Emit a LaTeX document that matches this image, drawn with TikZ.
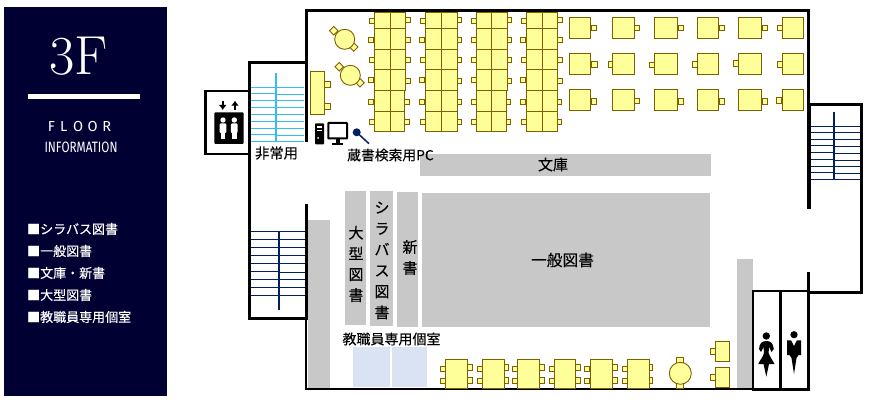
\documentclass[tikz,border=0pt]{standalone}
\usepackage{fontspec}
\usetikzlibrary{arrows.meta}

\newfontfamily\cjk[FakeBold=0.25]{Noto Sans CJK JP}
\newfontfamily\floorfont{Fira Sans}
\newfontfamily\infofont[FakeStretch=0.78]{Fira Sans}

\definecolor{panelblue}{RGB}{0,0,51}
\definecolor{deskfill}{RGB}{255,255,153}
\definecolor{deskline}{RGB}{127,96,0}
\definecolor{shelfgray}{RGB}{200,200,200}
\definecolor{roomblue}{RGB}{218,227,243}
\definecolor{stairnavy}{RGB}{0,32,96}
\definecolor{stairsky}{RGB}{51,190,240}

\begin{document}
\begin{tikzpicture}[%
        x = 1pt,
        y = -1pt,
        > = Latex,
        wall/.style = {line width = 3pt, line cap = rect, line join = miter},
        thinwall/.style = {line width = 2.2pt, line cap = rect, line join = miter},
        desk/.style = {draw = deskline, fill = deskfill, line width = 0.9pt},
        shelf/.style = {fill = shelfgray},
        stairline/.style = {line width = 0.8pt},
        label/.style = {inner sep = 0pt, font = \cjk\fontsize{14}{16}\selectfont},
        upright/.style = {inner sep = 0pt, align = center},
        item/.style = {anchor = west, inner sep = 0pt, text = white, font = \cjk\fontsize{13}{15}\selectfont}
    ]

        % Fix the page to the size of the reference.
        \useasboundingbox (0, 0) rectangle (873, 401);

        % Side panel.
        \fill[panelblue] (4, 7) rectangle (167, 396);
        \fill[white] (28, 94) rectangle (140, 99);
        \node (title) at (78.5, 56) [inner sep = 0pt, text = white, font = \fontsize{55}{55}\selectfont] {3F};
        \node (floor) at (79.5, 126.5) [inner sep = 0pt, text = white, font = \floorfont\fontsize{14.5}{16}\selectfont] {F\hspace{5.2pt}L\hspace{5.6pt}O\hspace{4.6pt}O\hspace{4.6pt}R};
        \node (info) at (81, 147) [inner sep = 0pt, text = white, font = \infofont\fontsize{15}{17}\selectfont] {INFORMATION};

        % Legend of the panel.
        \node (item1) at (27, 229) [item] {■シラバス図書};
        \node (item2) at (27, 251) [item] {■一般図書};
        \node (item3) at (27, 273) [item] {■文庫・新書};
        \node (item4) at (27, 295) [item] {■大型図書};
        \node (item5) at (27, 317) [item] {■教職員専用個室};

        % Shelves.
        \fill[shelf] (420, 154) rectangle (711, 176);
        \fill[shelf] (422, 193) rectangle (710, 327);
        \fill[shelf] (345, 191) rectangle (366, 325);
        \fill[shelf] (370, 191) rectangle (393, 326);
        \fill[shelf] (397, 192) rectangle (418, 327);
        \fill[shelf] (308, 220) rectangle (330, 389);
        \fill[shelf] (737, 259) rectangle (753, 389);

        % Private rooms.
        \fill[roomblue] (353, 347) rectangle (390, 387);
        \fill[roomblue] (392, 347) rectangle (427, 387);

        % Stairs.
        \begin{scope}[stairline, draw = stairsky]
            \draw[line width = 2pt] (276, 73) to (276, 142);
            \foreach \ya/\yb in {87.3/87.3, 93.3/94.3, 100.3/100.3, 107.3/107.3, 114.3/114.3, 121.3/121.3, 128.3/128.3, 134.3/135.3, 141.3/141.3}
                \draw (250, \ya) to (276, \ya) (276, \yb) to (304, \yb);
        \end{scope}
        \begin{scope}[stairline, draw = stairnavy]
            \draw[line width = 2pt] (834, 112) to (834, 179);
            \foreach \ya/\yb in {126.3/126.3, 132.3/132.3, 139.3/139.3, 145.3/146.3, 152.3/153.3, 159.3/160.3, 166.3/166.3, 172.3/173.3, 179.3/179.3}
                \draw (809, \ya) to (834, \ya) (834, \yb) to (861, \yb);
            \draw[line width = 2pt] (279, 232) to (279, 310);
            \foreach \ya/\yb in {231.3/231.3, 239.3/239.3, 247.3/247.3, 255.3/255.3, 263.3/263.3, 271.3/272.3, 279.3/279.3, 287.3/287.3, 295.3/295.3}
                \draw (251, \ya) to (279, \ya) (279, \yb) to (306, \yb);
        \end{scope}

        % Walls.
        \draw[wall] (306, 141) to (306, 11) to (808, 11) to (808, 105) to (861, 105) to (861, 292) to (808, 292);
        \draw[wall, line width = 4pt] (808.5, 105) to (808.5, 207);
        \draw[wall] (249.5, 154) to (249.5, 63) to (306, 63);
        \draw[wall] (249.5, 154) to (249.5, 318) to (306, 318) to (306, 205);
        \draw[line width = 2.7pt, line join = miter] (249.5, 91) to (205.5, 91) to (205.5, 154) to (249.5, 154);
        \draw[thinwall] (306, 318) to (306, 389) to (753, 389);

        % Toilets.
        \draw[wall] (753, 389) to (808, 389) to (808, 273);
        \draw[thinwall] (753, 389) to (753, 291) to (808, 291);
        \draw[wall] (780.5, 291) to (780.5, 388);

        % Chairs of the long tables.
        \foreach \xa/\xb/\xc/\xd in {372/371/408/407, 423/422/459/459, 474/474/509/508, 524/523/560/559} {
            \foreach \y/\xl/\yr/\xr in {21/\xa/20/\xc, 40/\xb/40/\xc, 60/\xa/60/\xc, 80/\xb/81/\xc, 102/\xb/102/\xd, 122/\xa/122/\xd} {
                \draw[desk] (\xl-2.7, \y-2.7) rectangle ++(5.4, 5.4);
                \draw[desk] (\xr-2.7, \yr-2.7) rectangle ++(5.4, 5.4);
            }
        }

        % Long tables.
        \foreach \xa/\xb/\xc/\xd in {374.3/390/405/404.7, 425/441/457/457, 476/491/507/506, 526/542/557/557} {
            \draw[desk] (\xa, 12.7) rectangle (\xc, 90.7);
            \draw[desk] (\xa, 90.7) rectangle (\xd, 131);
            \draw[desk] (\xb, 12.7) to (\xb, 131);
            \foreach \y in {28, 49, 69, 111.7}
                \draw[desk] (\xa, \y) to (\xc, \y);
        }

        % Chairs of the single desks.
        \foreach \x/\y in {593.7/28, 637/28, 680.7/28, 721.7/28, 764.7/28, 779.7/28,
                           594.3/64.3, 611/64.3, 652/65, 695/64.3, 736.3/63.3, 780/64.3,
                           593.7/101.3, 637/101, 680.7/101.3, 721.7/101.3, 764.7/101.3, 779/100.3}
            \draw[desk] (\x-2.7, \y-2.7) rectangle ++(5.4, 5.4);

        % Single desks.
        \foreach \xa/\xb in {569.3/590.7, 612.3/634.7, 654.3/677.7, 697.3/718.7, 738.3/761.7, 782.3/803.7}
            \foreach \y in {17.3, 53.3, 89.3}
                \draw[desk] (\xa, \y) rectangle (\xb, \y+21.4);

        % Desks along the bottom wall.
        \foreach \xa/\xb/\xc/\xd in {445/467.7/442.7/470.3, 482/504/479.7/506, 517.3/539.7/515.3/542.3,
                                     554.3/575.7/552.3/578, 590/612.7/587.3/615, 627/649/624.7/650.3} {
            \draw[desk] (\xc-2.5, 366.5) rectangle ++(5, 5);
            \draw[desk] (\xc-2.5, 378.8) rectangle ++(5, 5);
            \draw[desk] (\xd-2.5, 364.5) rectangle ++(5, 5.6);
            \draw[desk] (\xd-2.5, 377.5) rectangle ++(5, 5.6);
            \draw[desk] (\xa, 359.3) rectangle (\xb, 388.7);
        }

        % Desks in the corner by the toilets.
        \draw[desk] (710, 348.3) rectangle ++(5, 6);
        \draw[desk] (710, 374.3) rectangle ++(5, 6);
        \draw[desk] (715, 341.3) rectangle (729.7, 361.7);
        \draw[desk] (715, 367.3) rectangle (729.7, 387.3);

        % Round tables.
        \draw[desk] (676.5, 357.3) rectangle (683.5, 363);
        \draw[desk] (676.8, 383) rectangle (683.2, 388.5);
        \draw[desk] (680.3, 373.3) circle (11);
        \foreach \x/\y in {333.7/30.7, 353.7/47, 339.3/66.7, 360/82.7}
            \draw[desk, rotate around = {45:(\x, \y)}] (\x-3, \y-3) rectangle ++(6, 6);
        \draw[desk] (344.7, 39.3) circle (10);
        \draw[desk] (350.3, 75.3) circle (10);

        % Table by the stairs.
        \draw[desk] (324.7, 81.5) rectangle ++(5.6, 5.6);
        \draw[desk] (324.7, 103.5) rectangle ++(5.6, 5.6);
        \draw[desk] (310.3, 71.3) rectangle (324.7, 114.3);

        % Search terminal.
        \fill[black, rounded corners = 0.8pt] (315, 123.3) rectangle (324, 144.3);
        \fill[white] (316.7, 126.5) rectangle (322.3, 127.7);
        \fill[white] (316.7, 130) rectangle (322.3, 131.2);
        \fill[white] (318, 138) circle (1);
        \draw[line width = 2pt, rounded corners = 0.6pt] (328.3, 123) rectangle (347, 138.5);
        \fill[black] (335.5, 139) rectangle (339.5, 143);
        \fill[black] (332, 143) rectangle (343.3, 145);
        \draw[stairnavy, line width = 1.5pt] (356.7, 132.3) to (369, 143.7);
        \fill[stairnavy] (356.7, 132.3) circle (4);

        % Elevator sign.
        \draw[-{Latex[length = 5pt, width = 8pt]}, line width = 1.6pt] (222.7, 100.7) to (222.7, 110);
        \draw[-{Latex[length = 5pt, width = 8pt]}, line width = 1.6pt] (235, 110) to (235, 100.7);
        \fill[black, rounded corners = 1pt] (214.3, 112.3) rectangle (243.7, 144);
        \foreach \x in {223, 234.3} {
            \fill[white] (\x, 120) circle (2.7);
            \fill[white, rounded corners = 1pt] (\x-3.4, 123.5) rectangle (\x+3.4, 133);
            \fill[white] (\x-2.4, 130) rectangle (\x+2.4, 139.5);
        }

        % Toilet signs.
        \fill (766.3, 336) circle (3.7);
        \fill (766.3, 341) .. controls (762, 341) and (759.5, 343) .. (759, 349)
            to (761, 352) to (763.5, 347) to (764, 353)
            .. controls (763, 357) and (760, 360) .. (758.3, 364)
            to (763.5, 364) to (766.3, 376.7) to (769, 364) to (774.5, 364)
            .. controls (772.5, 360) and (770, 357) .. (768.6, 353)
            to (769, 347) to (771.5, 352) to (773.8, 349)
            .. controls (773, 343) and (770.5, 341) .. (766.3, 341) -- cycle;
        \fill (794, 334.7) circle (3.6);
        \fill (787, 340.3) to (791, 340.3) to (794, 346) to (797, 340.3) to (801, 340.3)
            to (801, 355) to (798.5, 355) to (796.5, 358) to (794, 374) to (791.5, 358)
            to (789.5, 355) to (787, 355) -- cycle;

        % Room and shelf labels.
        \node (bunko) at (553, 164.5) [label, font = \cjk\fontsize{15}{17}\selectfont] {文庫};
        \node (general) at (562.5, 260) [label, font = \cjk\fontsize{15.7}{17}\selectfont] {一般図書};
        \node (search) at (390.5, 155) [label, font = \cjk\fontsize{13.8}{15}\selectfont] {蔵書検索用PC};
        \node (emergency) at (276.5, 153) [label, font = \cjk\fontsize{14.3}{16}\selectfont] {非常用};
        \node (staffroom) at (391.5, 339) [label] {教職員専用個室};

        % Labels set from top to bottom.
        \node (large) at (356, 264) [upright, font = \cjk\fontsize{15}{20.8}\selectfont] {大\\型\\図\\書};
        \node (syllabus) at (382, 260.5) [upright, font = \cjk\fontsize{15}{21}\selectfont] {シ\\ラ\\バ\\ス\\図\\書};
        \node (newbooks) at (410, 257.5) [upright, font = \cjk\fontsize{15}{21}\selectfont] {新\\書};
\end{tikzpicture}
\end{document}
